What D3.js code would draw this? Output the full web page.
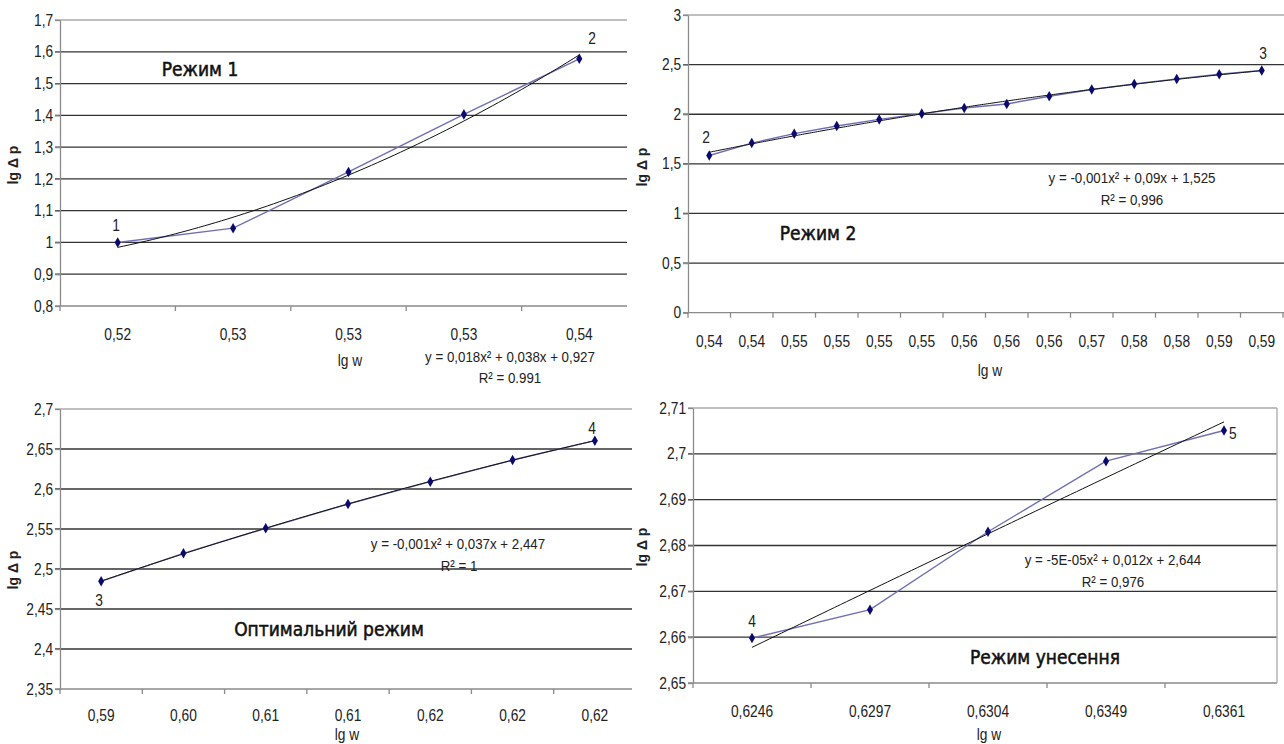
<!DOCTYPE html>
<html lang="uk">
<head>
    <meta charset="UTF-8">
    <title>lg Δp = f(lg w)</title>
    <script type="text/javascript" src="https://cdn.jsdelivr.net/npm/d3@7/dist/d3.min.js"></script>
</head>
<style>
    body{
        margin:0;
        background:#fff;
    }
    .grid line{
        stroke:#333;
        stroke-width:1.3;
    }
    .axis path,.axis line{
        fill:none;
        stroke:#8a8a8a;
        stroke-width:1.3;
    }
    .axis text, .note, .ptLabel, .xTitle{
        font-family:"Liberation Sans",Arial,sans-serif;
        font-size:16px;
        fill:#222;
    }
    .note{
        font-size:15.5px;
    }
    .yTitle{
        font-family:"Liberation Sans",Arial,sans-serif;
        font-weight:bold;
        font-size:14px;
        fill:#222;
    }
    .mode{
        font-family:"DejaVu Sans Condensed","DejaVu Sans",sans-serif;
        font-size:19px;
        fill:#111;
        stroke:#111;
        stroke-width:0.5;
    }
    .series{
        fill:none;
        stroke:#6f6fb4;
        stroke-width:1.4;
    }
    .trend{
        fill:none;
        stroke:#111;
        stroke-width:1;
    }
</style>
<body>

<script>
    var width = 1284;
    var height = 744;

    // Режим 1
    var cats1 = ["0,52", "0,53", "0,53", "0,53", "0,54"];
    var vals1 = [1.0, 1.045, 1.222, 1.403, 1.578];
    var ticks1 = [0.8, 0.9, 1.0, 1.1, 1.2, 1.3, 1.4, 1.5, 1.6, 1.7];

    // Режим 2
    var cats2 = ["0,54", "0,54", "0,55", "0,55", "0,55", "0,55", "0,56", "0,56", "0,56", "0,57", "0,58", "0,58", "0,59", "0,59"];
    var vals2 = [1.584, 1.709, 1.804, 1.881, 1.948, 2.006, 2.063, 2.103, 2.181, 2.249, 2.305, 2.356, 2.403, 2.441];
    var ticks2 = [0, 0.5, 1, 1.5, 2, 2.5, 3];

    // Оптимальний режим
    var cats3 = ["0,59", "0,60", "0,61", "0,61", "0,62", "0,62", "0,62"];
    var vals3 = [2.4846, 2.5196, 2.5508, 2.5812, 2.6092, 2.6362, 2.6604];
    var ticks3 = [2.35, 2.4, 2.45, 2.5, 2.55, 2.6, 2.65, 2.7];

    // Режим унесення
    var cats4 = ["0,6246", "0,6297", "0,6304", "0,6349", "0,6361"];
    var vals4 = [2.6598, 2.666, 2.683, 2.6984, 2.7051];
    var ticks4 = [2.65, 2.66, 2.67, 2.68, 2.69, 2.7, 2.71];

    var titles = ["Режим 1", "Режим 2", "Оптимальний режим", "Режим унесення"];
    var equations = [
        ["y = 0,018x\u00B2 + 0,038x + 0,927", "R\u00B2 = 0.991"],
        ["y = -0,001x\u00B2 + 0,09x + 1,525", "R\u00B2 = 0,996"],
        ["y = -0,001x\u00B2 + 0,037x + 2,447", "R\u00B2 = 1"],
        ["y = -5E-05x\u00B2 + 0,012x + 2,644", "R\u00B2 = 0,976"]
    ];
    var endLabels = [["1", "2"], ["2", "3"], ["3", "4"], ["4", "5"]];

    var sx = 0.86;   // вузький шрифт, як на оригіналі

    // розміщення панелей (пікселі)
    var panels = [
        {cats:cats1, vals:vals1, ticks:ticks1, x0:60, x1:637, clip:627, yB:306, yT:20, lx:34,
            title:[200, 76], eq:[510, 362], r2:[510, 383], xt:[350, 366], yt:[18, 165],
            lab:[[116, 231, "middle"], [592, 44, "middle"]]},
        {cats:cats2, vals:vals2, ticks:ticks2, x0:688, x1:1283, clip:1284, yB:312.7, yT:15, lx:34,
            title:[818, 240], eq:[1132, 183], r2:[1132, 205], xt:[990, 376], yt:[647, 167],
            lab:[[706, 143, "middle"], [1263, 59, "middle"]]},
        {cats:cats3, vals:vals3, ticks:ticks3, x0:60, x1:636, clip:632, yB:689, yT:409, lx:32,
            title:[329, 636], eq:[458, 549], r2:[459, 571], xt:[347, 740], yt:[18, 570],
            lab:[[99, 606, "middle"], [592, 434, "middle"]]},
        {cats:cats4, vals:vals4, ticks:ticks4, x0:693, x1:1283, clip:1277, yB:683, yT:408, lx:34,
            title:[1045, 664], eq:[1113, 565], r2:[1113, 587], xt:[989, 740], yt:[647, 547],
            lab:[[752, 627, "middle"], [1229, 439, "start"]]}
    ];

    var svg = d3.select("body")
            .append("svg")
            .attr("width", width)
            .attr("height", height);

    var fmt = function(v){
        return d3.format("~g")(+v.toFixed(3)).replace(".", ",");
    };

    // текст, стиснутий по горизонталі
    function label(g, x, y, txt, cls, anchor){
        return g.append("text")
                .attr("class", cls)
                .attr("transform", "translate(" + x + "," + y + ") scale(" + sx + ",1)")
                .attr("text-anchor", anchor || "middle")
                .text(txt);
    }

    // квадратичний тренд, метод найменших квадратів (x = 1..n)
    function quadFit(ys){
        var S = [0,0,0,0,0], T = [0,0,0];
        ys.forEach(function(y, i){
            var x = i + 1;
            for (var k = 0; k < 5; k++) S[k] += Math.pow(x, k);
            for (var j = 0; j < 3; j++) T[j] += y * Math.pow(x, j);
        });
        var M = [[S[0],S[1],S[2],T[0]], [S[1],S[2],S[3],T[1]], [S[2],S[3],S[4],T[2]]];
        for (var c = 0; c < 3; c++){
            for (var r = c + 1; r < 3; r++){
                var f = M[r][c] / M[c][c];
                for (var q = c; q < 4; q++) M[r][q] -= f * M[c][q];
            }
        }
        var a = [0,0,0];
        for (var r2 = 2; r2 >= 0; r2--){
            var s = M[r2][3];
            for (var q2 = r2 + 1; q2 < 3; q2++) s -= M[r2][q2] * a[q2];
            a[r2] = s / M[r2][r2];
        }
        return function(x){ return a[0] + a[1] * x + a[2] * x * x; };
    }

    panels.forEach(function(p, pi){
        var g = svg.append("g");
        var idx = d3.range(p.cats.length);

        var xScale = d3.scaleBand()
                .domain(idx)
                .range([p.x0, p.x1]);

        var yScale = d3.scaleLinear()
                .domain([p.ticks[0], p.ticks[p.ticks.length - 1]])
                .range([p.yB, p.yT]);

        var cx = function(i){ return xScale(i) + xScale.bandwidth() / 2; };

        //сітка
        g.append("g")
                .attr("class", "grid")
                .selectAll("line")
                .data(p.ticks.slice(1))
                .enter()
                .append("line")
                .attr("x1", p.x0 - 5)
                .attr("x2", p.clip)
                .attr("y1", function(d){ return yScale(d); })
                .attr("y2", function(d){ return yScale(d); })
                .style("stroke", function(d, i){ return i === p.ticks.length - 2 ? "#aaa" : null; });

        //вісь y
        var yAx = g.append("g")
                .attr("class", "axis")
                .attr("transform", "translate(" + p.x0 + ",0)")
                .call(d3.axisLeft(yScale).tickValues(p.ticks).tickSize(5).tickSizeOuter(0).tickPadding(3).tickFormat(fmt));
        yAx.selectAll(".tick text")
                .attr("transform", "scale(" + sx + ",1)");

        //вісь x
        var xAxis = g.append("g")
                .attr("class", "axis")
                .attr("transform", "translate(0," + p.yB + ")");
        xAxis.append("line")
                .attr("x1", p.x0 - 5).attr("x2", p.clip);
        xAxis.selectAll(".tk")
                .data(idx.concat([p.cats.length]).filter(function(i){ return p.x0 + i * xScale.bandwidth() <= p.clip; }))
                .enter()
                .append("line")
                .attr("x1", function(i){ return p.x0 + i * xScale.bandwidth(); })
                .attr("x2", function(i){ return p.x0 + i * xScale.bandwidth(); })
                .attr("y1", 0).attr("y2", 5);
        idx.forEach(function(i){
            label(xAxis, cx(i), p.lx, p.cats[i], "", "middle");
        });

        if (pi === 3){
            g.append("line")
                    .attr("x1", p.clip).attr("x2", p.clip)
                    .attr("y1", p.yT).attr("y2", p.yB)
                    .style("stroke", "#aaa").style("stroke-width", 1.3);
        }

        //лінія даних
        g.append("path")
                .datum(p.vals)
                .attr("class", "series")
                .attr("d", d3.line()
                        .x(function(d, i){ return cx(i); })
                        .y(function(d){ return yScale(d); }));

        //тренд
        var fit = quadFit(p.vals);
        var xs = d3.range(0, p.vals.length - 1 + 0.001, 0.05);
        g.append("path")
                .datum(xs)
                .attr("class", "trend")
                .attr("d", d3.line()
                        .x(function(t){ return cx(0) + t * xScale.bandwidth(); })
                        .y(function(t){ return yScale(fit(t + 1)); }));

        //маркери
        g.selectAll(".mk")
                .data(p.vals)
                .enter()
                .append("path")
                .attr("transform", function(d, i){ return "translate(" + cx(i) + "," + yScale(d) + ")"; })
                .attr("d", d3.symbol().type(d3.symbolDiamond).size(32))
                .style("fill", "#0a0a6e");

        //підписи
        g.append("text")
                .attr("class", "mode")
                .attr("x", p.title[0]).attr("y", p.title[1])
                .attr("text-anchor", "middle")
                .text(titles[pi]);

        label(g, p.eq[0], p.eq[1], equations[pi][0], "note");
        label(g, p.r2[0], p.r2[1], equations[pi][1], "note");
        label(g, p.xt[0], p.xt[1], "lg w", "xTitle");

        g.append("text").attr("class", "yTitle")
                .attr("transform", "translate(" + p.yt[0] + "," + p.yt[1] + ") rotate(-90)")
                .attr("text-anchor", "middle")
                .text("lg \u0394 p");

        endLabels[pi].forEach(function(t, k){
            label(g, p.lab[k][0], p.lab[k][1], t, "ptLabel", p.lab[k][2]);
        });
    });

</script>
</body>
</html>
